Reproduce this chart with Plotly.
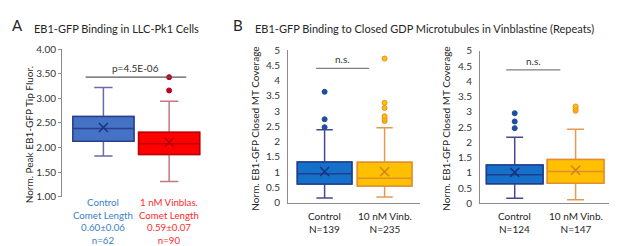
import plotly.graph_objects as go

# ---------------- data ----------------
# Panel A
a_pos = [0, 1]
a_q1 = [2.13, 1.86]
a_med = [2.39, 2.08]
a_q3 = [2.63, 2.31]
a_mean = [2.41, 2.11]
a_lo = [1.83, 1.31]
a_hi = [3.22, 2.94]
a_out_x = [1, 1]
a_out_y = [3.16, 3.43]
a_labels = ["Control<br>Comet Length<br>0.60±0.06<br>n=62",
            "1 nM Vinblas.<br>Comet Length<br>0.59±0.07<br>n=90"]
a_pval = "p=4.5E-06"
a_bracket = [-0.27, 1.26, 3.43]

# Panel B1
b1_q1 = [0.61, 0.54]
b1_med = [0.94, 0.80]
b1_q3 = [1.33, 1.32]
b1_mean = [1.02, 1.01]
b1_lo = [0.15, 0.18]
b1_hi = [2.39, 2.45]
b1_out_blue = [2.47, 2.73, 3.63]
b1_out_orange = [2.67, 2.74, 2.83, 3.10, 3.27, 4.72]
b1_labels = ["Control<br>N=139", "10 nM Vinb.<br>N=235"]
b1_bracket = [-0.14, 0.74, 4.40]

# Panel B2
b2_q1 = [0.65, 0.66]
b2_med = [0.94, 1.05]
b2_q3 = [1.26, 1.44]
b2_mean = [1.02, 1.09]
b2_lo = [0.17, 0.12]
b2_hi = [2.17, 2.43]
b2_out_blue = [2.47, 2.69, 2.96]
b2_out_orange = [3.04, 3.11, 3.18]
b2_labels = ["Control<br>N=124", "10 nM Vinb.<br>N=147"]
b2_bracket = [-0.14, 0.75, 4.38]

ns_text = "n.s."
y_title_a = "Norm. Peak EB1-GFP Tip Fluor."
y_title_b = "Norm. EB1-GFP Closed MT Coverage"
title_a = "EB1-GFP Binding in LLC-Pk1 Cells"
title_b = "EB1-GFP Binding to Closed GDP Microtubules in Vinblastine (Repeats)"

FONT = "Lato"
FS = 10
W, H = 617, 246

def px_x(p):
    return p / W

def px_y(p):
    return 1 - p / H

fig = go.Figure()

def add_box(xa, ya, pos, q1, med, q3, lo, hi, mean, fill, border, whisk, xcol, width):
    fig.add_trace(go.Box(x=[pos], q1=[q1], median=[med], q3=[q3],
                         lowerfence=[lo], upperfence=[hi],
                         fillcolor=fill, line=dict(color=whisk, width=1.5),
                         whiskerwidth=0.3, width=width, xaxis=xa, yaxis=ya,
                         showlegend=False, hoverinfo="skip"))
    fig.add_trace(go.Box(x=[pos], q1=[q1], median=[med], q3=[q3],
                         lowerfence=[q1], upperfence=[q3],
                         fillcolor=fill, line=dict(color=border, width=1.5),
                         whiskerwidth=0.3, width=width, xaxis=xa, yaxis=ya,
                         showlegend=False, hoverinfo="skip"))
    fig.add_trace(go.Scatter(x=[pos], y=[mean], mode="markers",
                             marker=dict(symbol="x-thin", size=9,
                                         line=dict(color=xcol, width=1.5)),
                             xaxis=xa, yaxis=ya, showlegend=False, hoverinfo="skip"))

def add_out(xa, ya, pos, ys, fill, edge):
    fig.add_trace(go.Scatter(x=[pos] * len(ys), y=ys, mode="markers",
                             marker=dict(size=5, color=fill, line=dict(color=edge, width=1)),
                             xaxis=xa, yaxis=ya, showlegend=False, hoverinfo="skip"))

# Panel A
a_fill = ["#4472C4", "#FF0000"]
a_border = ["#2B3F8C", "#C00000"]
a_whisk = ["#6A6AA6", "#C47880"]
a_x = ["#1F2F80", "#B00000"]
for i in range(2):
    add_box("x", "y", a_pos[i], a_q1[i], a_med[i], a_q3[i], a_lo[i], a_hi[i],
            a_mean[i], a_fill[i], a_border[i], a_whisk[i], a_x[i], 0.93)
add_out("x", "y", a_out_x[0], a_out_y, "#C00020", "#C00020")

# Panel B
b_fill = ["#1470C8", "#FFC000"]
b_border = ["#203E8E", "#E28E30"]
b_whisk = ["#45498C", "#E59A50"]
b_x = ["#1C2F80", "#D08020"]
for i in range(2):
    add_box("x2", "y2", i, b1_q1[i], b1_med[i], b1_q3[i], b1_lo[i], b1_hi[i],
            b1_mean[i], b_fill[i], b_border[i], b_whisk[i], b_x[i], 0.91)
    add_box("x3", "y3", i, b2_q1[i], b2_med[i], b2_q3[i], b2_lo[i], b2_hi[i],
            b2_mean[i], b_fill[i], b_border[i], b_whisk[i], b_x[i], 0.93)
add_out("x2", "y2", 0, b1_out_blue, "#1F4E9E", "#1F4E9E")
add_out("x2", "y2", 1, b1_out_orange, "#FFC000", "#E8902A")
add_out("x3", "y3", 0, b2_out_blue, "#1F4E9E", "#1F4E9E")
add_out("x3", "y3", 1, b2_out_orange, "#FFC000", "#E8902A")

axis_col = "#8C8C8C"
tick_font = dict(family=FONT, size=FS, color="#333333")

layout = dict(
    width=W, height=H, margin=dict(l=0, r=0, t=0, b=0),
    plot_bgcolor="white", paper_bgcolor="white", showlegend=False,
    font=dict(family=FONT, size=FS, color="#404040"),
    xaxis=dict(domain=[px_x(54), px_x(194)], range=[-0.63, 1.5],
               showline=False, showticklabels=False, showgrid=False, zeroline=False,
               anchor="y"),
    yaxis=dict(domain=[px_y(192), px_y(36)], range=[1, 4], dtick=0.5, tickformat=".2f",
               showline=True, linecolor=axis_col, linewidth=1, ticks="outside",
               ticklen=3, tickcolor=axis_col, showgrid=False, zeroline=False,
               tickfont=tick_font, anchor="x"),
    xaxis2=dict(domain=[px_x(280), px_x(412)], range=[-0.61, 1.59],
                showline=True, linecolor=axis_col, linewidth=1,
                showticklabels=False, showgrid=False, zeroline=False, anchor="y2"),
    yaxis2=dict(domain=[px_y(198), px_y(37)], range=[0, 5], dtick=0.5,
                showline=True, linecolor=axis_col, linewidth=1, ticks="outside",
                ticklen=5, tickcolor="rgba(0,0,0,0)", showgrid=False, zeroline=False,
                tickfont=tick_font, anchor="x2"),
    xaxis3=dict(domain=[px_x(472), px_x(609)], range=[-0.57, 1.68],
                showline=True, linecolor=axis_col, linewidth=1,
                showticklabels=False, showgrid=False, zeroline=False, anchor="y3"),
    yaxis3=dict(domain=[px_y(199), px_y(38)], range=[0, 5], dtick=0.5,
                showline=True, linecolor=axis_col, linewidth=1, ticks="outside",
                ticklen=5, tickcolor="rgba(0,0,0,0)", showgrid=False, zeroline=False,
                tickfont=tick_font, anchor="x3"),
)
fig.update_layout(**layout)

shapes = []
ann = []
for xr, yr, br, col in [("x", "y", a_bracket, "#595959"),
                        ("x2", "y2", b1_bracket, "#7F7F7F"),
                        ("x3", "y3", b2_bracket, "#7F7F7F")]:
    shapes.append(dict(type="line", xref=xr, yref=yr, x0=br[0], x1=br[1], y0=br[2], y1=br[2],
                       line=dict(color=col, width=1.2)))
ann.append(dict(xref="x", yref="y", x=(a_bracket[0] + a_bracket[1]) / 2, y=a_bracket[2],
                text=a_pval, showarrow=False, yanchor="bottom", yshift=1,
                font=dict(family=FONT, size=FS, color="#333333")))
for xr, yr, br in [("x2", "y2", b1_bracket), ("x3", "y3", b2_bracket)]:
    ann.append(dict(xref=xr, yref=yr, x=(br[0] + br[1]) / 2, y=br[2], text=ns_text,
                    showarrow=False, yanchor="bottom", yshift=1,
                    font=dict(family=FONT, size=FS, color="#333333")))

a_lab_col = ["#3A7FC8", "#FF2A2A"]
for i in range(2):
    ann.append(dict(xref="x", yref="paper", x=a_pos[i], y=px_y(217), text=a_labels[i],
                    showarrow=False, yanchor="middle", align="center",
                    font=dict(family=FONT, size=9.7, color=a_lab_col[i])))
for xr, labs in [("x2", b1_labels), ("x3", b2_labels)]:
    for i in range(2):
        ann.append(dict(xref=xr, yref="paper", x=i, y=px_y(219), text=labs[i],
                        showarrow=False, yanchor="middle", align="center",
                        font=dict(family=FONT, size=FS, color="#262626")))

for xp, yp, t in [(21, 126, y_title_a), (247, 120, y_title_b), (438, 120, y_title_b)]:
    ann.append(dict(xref="paper", yref="paper", x=px_x(xp), y=px_y(yp), text=t,
                    textangle=-90, showarrow=False, xanchor="center", yanchor="middle",
                    font=dict(family=FONT, size=FS, color="#262626")))

ann.append(dict(xref="paper", yref="paper", x=px_x(24), y=px_y(14), text=title_a,
                showarrow=False, xanchor="left", yanchor="middle",
                font=dict(family=FONT, size=11, color="#262626")))
ann.append(dict(xref="paper", yref="paper", x=px_x(245), y=px_y(14), text=title_b,
                showarrow=False, xanchor="left", yanchor="middle",
                font=dict(family=FONT, size=11, color="#262626")))
ann.append(dict(xref="paper", yref="paper", x=px_x(2), y=px_y(11), text="A",
                showarrow=False, xanchor="left", yanchor="middle",
                font=dict(family=FONT, size=15, color="#262626")))
ann.append(dict(xref="paper", yref="paper", x=px_x(223), y=px_y(11), text="B",
                showarrow=False, xanchor="left", yanchor="middle",
                font=dict(family=FONT, size=15, color="#262626")))

fig.update_layout(shapes=shapes, annotations=ann)
fig.write_html("out.html")
